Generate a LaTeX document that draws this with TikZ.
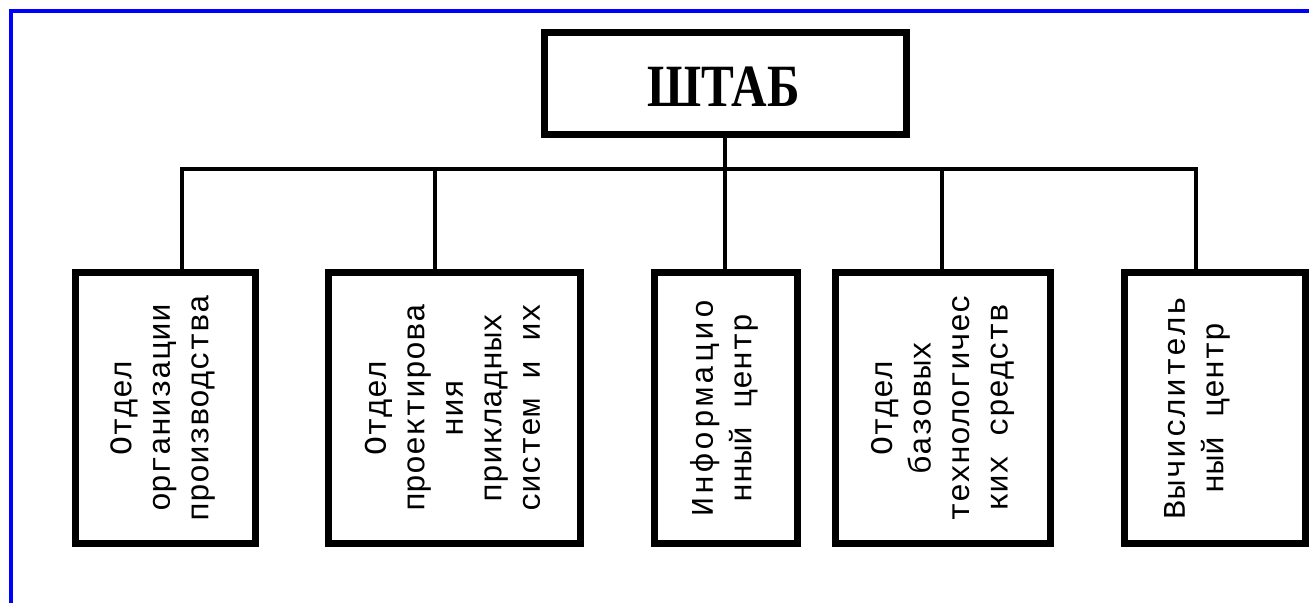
\documentclass[tikz,border=0pt]{standalone}
\usepackage{fontspec}
\setmainfont{Liberation Serif}
\newfontfamily\deptfont{Liberation Mono}
\newfontfamily\headfont[FakeStretch=0.82]{Liberation Serif}
\usetikzlibrary{calc}

\definecolor{frameblue}{RGB}{0,0,255}

\tikzset{
	unit/.style={draw, line width=7pt, rectangle, inner sep=0pt},
	wire/.style={line width=4pt},
	deptlabel/.style={rotate=90, align=center, inner sep=0pt,
		font=\deptfont\fontsize{31.5}{38.5}\selectfont},
}

\begin{document}
\begin{tikzpicture}[x=1pt, y=-1pt]
			%%%%% START %%%%%
			\useasboundingbox (0, 0) rectangle (1309, 603);
			
			\draw[frameblue, line width=3.5pt] (11, 603) -- (11, 11) -- (1309, 11);
			
			% head box
			\node[unit, minimum width=361.5pt, minimum height=102.3pt] (shtab) at (725.7, 83.8) {};
			\node[font=\headfont\bfseries\fontsize{60}{60}\selectfont, inner sep=0pt] (shtabtext) at (723.5, 87) {ШТАБ};
			
			% departments
			\node[unit, minimum width=180pt, minimum height=271pt] (b1) at (165, 408) {};
			\node[unit, minimum width=251.5pt, minimum height=271pt] (b2) at (454.25, 408) {};
			\node[unit, minimum width=143.5pt, minimum height=271pt] (b3) at (725.75, 408) {};
			\node[unit, minimum width=215pt, minimum height=271pt] (b4) at (943, 408) {};
			\node[unit, minimum width=180.5pt, minimum height=271pt] (b5) at (1214.75, 408) {};
			
			\node[deptlabel] (t1) at (162.5, 408) {Отдел\\организации\\производства};
			\node[deptlabel] (t2) at (452.5, 408) {Отдел\\проектирова\\ния\\прикладных\\систем и их};
			\node[deptlabel] (t3) at (724, 408) {{\addfontfeatures{LetterSpace=10}Информацио}\\нный центр};
			\node[deptlabel] (t4) at (942.5, 408) {Отдел\\базовых\\технологичес\\ких средств};
			\node[deptlabel] (t5) at (1197, 408) {{\addfontfeatures{LetterSpace=5}Вычислитель}\\ный центр};
			
			% bus
			\coordinate (bus1) at (182, 168.7);
			\coordinate (bus2) at (435, 168.7);
			\coordinate (bus3) at (724.5, 168.7);
			\coordinate (bus4) at (941.7, 168.7);
			\coordinate (bus5) at (1196, 168.7);
			
			\draw[wire] (bus1 |- b1.north) -- (bus1) -- (bus5) -- (bus5 |- b5.north);
			\draw[wire] (bus3 |- shtab.south) -- (bus3 |- b3.north);
			\foreach \i in {2,4}
				\draw[wire] (bus\i) -- (bus\i |- b\i.north);
			%%%%% END %%%%%
\end{tikzpicture}
\end{document}
